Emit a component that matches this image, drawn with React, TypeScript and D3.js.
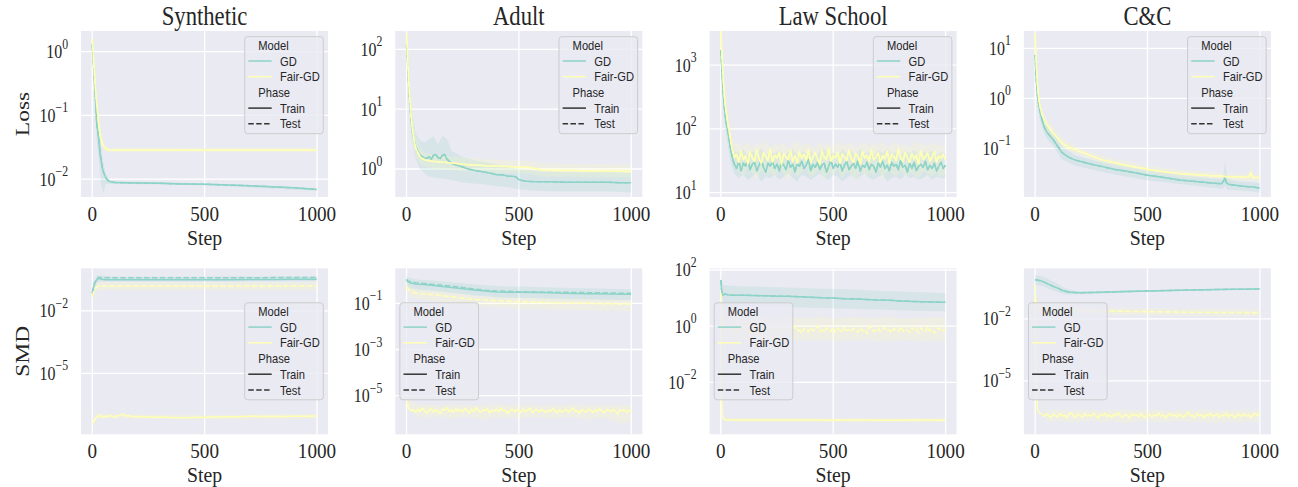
import React from 'react';
import * as d3 from 'd3';

// ---------------- data ----------------
const datasets = ['Synthetic', 'Adult', 'Law School', 'C&C'];
const metrics = ['Loss', 'SMD'];
const xTicks = [0, 500, 1000];
const xDomain = [-49.95, 1048.95];
// y limits (log10) per panel, row-major (Loss row then SMD row)
const yDomainsLog = [
  [-2.28, 0.325], [-0.468, 2.306], [0.933, 3.533], [-1.974, 1.346],
  [-7.93, 0.05], [-6.67, 0.515], [-3.85, 2.06], [-7.58, 0.45],
];
const yTickExps = [
  [0, -1, -2], [2, 1, 0], [3, 2, 1], [1, 0, -1],
  [-2, -5], [-1, -3, -5], [2, 0, -2], [-2, -5],
];

const steps10 = d3.range(0, 1000, 10).concat([999]);
const steps50 = d3.range(0, 1000, 50).concat([999]);

// ---- Synthetic / Loss ----
const synLossSteps = [0, 5, 10, 15, 20, 25, 30, 35, 40, 45, 50, 60, 70, 80, 100, 150, 200, 300, 400, 500, 600, 700, 800, 900, 999];
const synLossGD = [1.3, 0.7, 0.35, 0.17, 0.075, 0.055, 0.04, 0.025, 0.019, 0.015, 0.013, 0.0105, 0.0095, 0.0091, 0.0089, 0.0088, 0.0087, 0.0086, 0.0084, 0.0083, 0.0081, 0.0079, 0.0076, 0.0073, 0.0069];
const synLossFair = [1.6, 0.9, 0.45, 0.25, 0.15, 0.1, 0.07, 0.05, 0.042, 0.036, 0.033, 0.03, 0.029, 0.0285, 0.0285, 0.0285, 0.0285, 0.0285, 0.0285, 0.0285, 0.0285, 0.0285, 0.0285, 0.0285, 0.0285];
const synLossBandSteps = [0, 10, 20, 30, 40, 50, 60, 80, 100, 500, 999];
const synLossGDHi = [1.6, 0.5, 0.12, 0.07, 0.03, 0.018, 0.012, 0.0095, 0.0093, 0.0086, 0.0072];
const synLossGDLo = [1.0, 0.25, 0.04, 0.02, 0.008, 0.006, 0.0085, 0.0084, 0.0085, 0.008, 0.0066];
const synLossFairHi = [1.8, 0.55, 0.2, 0.1, 0.055, 0.04, 0.033, 0.031, 0.031, 0.031, 0.031];
const synLossFairLo = [1.4, 0.4, 0.12, 0.06, 0.035, 0.028, 0.027, 0.027, 0.027, 0.027, 0.027];

// ---- Adult / Loss ----
const adultLossSteps = [0, 5, 10, 15, 20, 25, 30, 40, 50, 60, 75, 90, 100, 110, 120, 130, 140, 150, 160, 170, 180, 190, 200, 225, 250, 275, 300, 325, 350, 375, 400, 425, 450, 475, 490, 500, 525, 550, 600, 650, 700, 750, 800, 850, 900, 950, 999];
const adultLossGD = [120, 60, 25, 12, 7, 4.5, 3.4, 2.4, 2.0, 1.7, 1.55, 1.5, 1.6, 1.45, 1.7, 1.75, 1.55, 1.5, 1.7, 1.75, 1.45, 1.35, 1.25, 1.15, 1.08, 1.0, 0.95, 0.92, 0.88, 0.85, 0.8, 0.8, 0.76, 0.76, 0.72, 0.66, 0.63, 0.62, 0.61, 0.61, 0.6, 0.6, 0.6, 0.6, 0.6, 0.59, 0.59];
const adultLossFair = [180, 70, 30, 14, 8, 5, 3.5, 2.3, 1.9, 1.6, 1.45, 1.4, 1.37, 1.35, 1.34, 1.33, 1.32, 1.3, 1.3, 1.29, 1.28, 1.27, 1.26, 1.23, 1.2, 1.18, 1.16, 1.15, 1.13, 1.12, 1.12, 1.11, 1.1, 1.09, 1.09, 1.08, 1.07, 1.06, 0.96, 0.95, 0.94, 0.94, 0.93, 0.93, 0.92, 0.92, 0.91];
const adultLossBandSteps = [0, 20, 40, 60, 80, 100, 120, 140, 160, 180, 200, 250, 300, 350, 400, 450, 500, 550, 600, 700, 800, 900, 999];
const adultLossGDHi = [180, 12, 4, 3, 2.8, 3.2, 3.5, 2.6, 3.6, 3.2, 2.0, 1.6, 1.4, 1.3, 1.2, 1.1, 1.0, 0.95, 0.9, 0.88, 0.88, 0.88, 0.85];
const adultLossGDLo = [60, 4, 1.5, 1.0, 0.85, 0.75, 0.72, 0.7, 0.7, 0.68, 0.65, 0.6, 0.57, 0.55, 0.52, 0.5, 0.46, 0.44, 0.43, 0.42, 0.42, 0.42, 0.41];
const adultLossFairHi = [250, 14, 3.5, 2.2, 1.9, 1.8, 1.75, 1.7, 1.7, 1.65, 1.6, 1.55, 1.5, 1.45, 1.42, 1.4, 1.38, 1.35, 1.25, 1.22, 1.2, 1.2, 1.18];
const adultLossFairLo = [120, 5, 1.6, 1.2, 1.1, 1.05, 1.0, 1.0, 0.98, 0.97, 0.96, 0.92, 0.9, 0.88, 0.87, 0.86, 0.85, 0.83, 0.75, 0.74, 0.73, 0.73, 0.72];

// ---- Law School / Loss ----
const lawLossSteps = [0, 5, 10, 15, 20, 25, 30, 35, 40, 45, 50, 55, 60].concat(d3.range(70, 1000, 10), [999]);
const lawLossGD = [1700, 800, 400, 230, 160, 120, 95, 75, 58, 45, 38, 32, 28,
  24, 31, 22, 29, 26, 33, 23, 28, 30, 22, 27, 32, 25, 21, 29, 26, 31, 24, 28, 22,
  30, 27, 23, 32, 25, 28, 21, 29, 26, 31, 24, 27, 33, 22, 28, 25, 30, 23, 27, 29,
  21, 26, 32, 24, 28, 25, 30, 22, 27, 31, 23, 26, 29, 24, 32, 22, 27, 25, 30, 23,
  28, 26, 21, 29, 25, 31, 24, 27, 22, 30, 26, 28, 23, 32, 25, 27, 21, 29, 24, 30,
  22, 26, 28, 25, 31, 23, 27, 24, 29, 22, 26, 30, 24, 27];
const lawLossFair = [3500, 1400, 650, 350, 230, 170, 130, 100, 80, 62, 50, 42, 36,
  40, 30, 45, 33, 38, 28, 44, 35, 31, 47, 34, 29, 42, 37, 32, 48, 30, 39, 35, 43,
  28, 41, 36, 33, 46, 31, 38, 29, 44, 35, 40, 32, 47, 30, 37, 42, 34, 28, 45, 36,
  33, 49, 31, 38, 35, 43, 29, 40, 36, 32, 46, 34, 30, 41, 37, 28, 44, 35, 39, 31,
  47, 33, 36, 42, 30, 38, 34, 45, 29, 40, 37, 32, 48, 35, 31, 43, 36, 30, 41, 34,
  39, 28, 46, 33, 37, 42, 31, 36, 44, 30, 38, 35, 40, 33];
const lawLossBandSteps = [0, 10, 20, 30, 40, 50, 60].concat(d3.range(80, 1000, 20), [999]);
const lawLossGDHi = [2500, 700, 250, 150, 90, 60, 45,
  42, 48, 38, 45, 40, 50, 37, 44, 41, 47, 39, 43, 49, 38, 45, 41, 46, 37, 44, 48,
  40, 43, 38, 47, 42, 45, 39, 49, 41, 44, 37, 46, 42, 48, 40, 43, 39, 45, 41, 47, 38, 44, 42, 46, 39, 43, 41];
const lawLossGDLo = [1000, 200, 100, 60, 35, 25, 20,
  17, 19, 16, 18, 20, 15, 18, 17, 19, 16, 18, 20, 17, 15, 19, 18, 16, 18, 20, 17,
  16, 19, 18, 15, 17, 19, 16, 18, 20, 17, 16, 18, 19, 15, 17, 18, 16, 19, 17, 18, 16, 17, 19, 16, 18, 17, 17];
const lawLossFairHi = [3600, 1000, 350, 200, 120, 80, 60,
  58, 52, 63, 50, 60, 55, 65, 51, 59, 54, 62, 49, 57, 64, 53, 60, 56, 50, 63, 55,
  59, 52, 66, 54, 58, 61, 50, 57, 63, 53, 60, 55, 65, 51, 58, 62, 54, 59, 50, 64, 56, 60, 53, 62, 57, 55, 58];
const lawLossFairLo = [2000, 400, 150, 80, 50, 35, 27,
  22, 18, 25, 20, 16, 23, 19, 21, 17, 24, 20, 15, 22, 18, 21, 25, 17, 20, 23, 16,
  21, 19, 24, 17, 22, 20, 15, 23, 18, 21, 19, 24, 16, 22, 20, 18, 23, 17, 21, 19, 16, 22, 20, 18, 21, 17, 20];

// ---- C&C / Loss ----
const ccLossSteps = [0, 5, 10, 15, 20, 30, 40, 50, 60, 80, 100, 120, 150, 180, 220, 260, 300, 350, 400, 450, 500, 550, 600, 650, 700, 750, 800, 830, 840, 845, 850, 860, 900, 950, 960, 965, 970, 999];
const ccLossGD = [7.4, 2.5, 1.2, 0.8, 0.6, 0.38, 0.27, 0.22, 0.19, 0.15, 0.11, 0.082, 0.066, 0.058, 0.052, 0.047, 0.043, 0.038, 0.035, 0.032, 0.029, 0.027, 0.025, 0.023, 0.022, 0.021, 0.02, 0.0195, 0.023, 0.026, 0.021, 0.019, 0.018, 0.017, 0.017, 0.017, 0.0168, 0.016];
const ccLossFair = [20, 5, 2.0, 1.1, 0.75, 0.48, 0.38, 0.31, 0.27, 0.2, 0.16, 0.127, 0.105, 0.093, 0.08, 0.068, 0.058, 0.052, 0.046, 0.042, 0.038, 0.035, 0.033, 0.031, 0.03, 0.029, 0.028, 0.0275, 0.0275, 0.0272, 0.027, 0.027, 0.0268, 0.0265, 0.033, 0.027, 0.0262, 0.026];
const ccLossBandSteps = [0, 10, 20, 30, 50, 80, 120, 180, 260, 350, 500, 650, 800, 835, 845, 855, 900, 955, 962, 970, 999];
const ccLossGDHi = [12, 2.0, 0.9, 0.5, 0.3, 0.2, 0.11, 0.072, 0.058, 0.048, 0.036, 0.029, 0.025, 0.024, 0.055, 0.025, 0.022, 0.021, 0.021, 0.021, 0.02];
const ccLossGDLo = [4, 0.7, 0.4, 0.27, 0.16, 0.11, 0.06, 0.045, 0.037, 0.03, 0.023, 0.019, 0.016, 0.0155, 0.018, 0.015, 0.0145, 0.0138, 0.0137, 0.0135, 0.013];
const ccLossFairHi = [25, 3, 1.1, 0.65, 0.4, 0.26, 0.16, 0.11, 0.08, 0.062, 0.045, 0.037, 0.033, 0.032, 0.032, 0.032, 0.031, 0.031, 0.055, 0.031, 0.03];
const ccLossFairLo = [14, 1.3, 0.55, 0.36, 0.24, 0.16, 0.1, 0.078, 0.058, 0.044, 0.032, 0.026, 0.024, 0.0235, 0.0235, 0.0233, 0.0228, 0.0225, 0.0225, 0.0223, 0.022];

// ---- Synthetic / SMD ----
const synSmdSteps = [0, 5, 10, 20, 30, 40, 60, 80, 100, 150, 200, 300, 400, 500, 600, 700, 800, 900, 999];
const synSmdGDTrain = [0.071, 0.126, 0.2, 0.32, 0.38, 0.33, 0.32, 0.32, 0.32, 0.32, 0.32, 0.32, 0.32, 0.32, 0.32, 0.325, 0.325, 0.33, 0.33];
const synSmdGDTest = [0.07, 0.13, 0.22, 0.35, 0.42, 0.4, 0.39, 0.39, 0.39, 0.39, 0.39, 0.39, 0.39, 0.39, 0.395, 0.395, 0.4, 0.4, 0.4];
const synSmdFairTest = [0.05, 0.08, 0.11, 0.14, 0.16, 0.16, 0.16, 0.16, 0.16, 0.16, 0.16, 0.16, 0.16, 0.16, 0.16, 0.16, 0.16, 0.16, 0.16];
const synSmdFairTrainSteps = [0, 5, 10, 15, 20, 30, 40, 50, 60, 70, 80, 90, 100, 110, 120, 130, 140, 150, 160, 180, 200, 220, 250, 280, 300, 350, 400, 450, 500, 550, 600, 650, 700, 750, 800, 850, 900, 950, 999];
const synSmdFairTrain = [3.8e-8, 4.5e-8, 5.6e-8, 7.1e-8, 7.9e-8, 9.5e-8, 8.7e-8, 7.9e-8, 8.9e-8, 8.3e-8, 9.5e-8, 8.5e-8, 7.9e-8, 8.9e-8, 9.3e-8, 1.05e-7, 1.1e-7, 8.9e-8, 9.5e-8, 8.3e-8, 8.7e-8, 7.9e-8, 8.3e-8, 7.6e-8, 7.9e-8, 7.6e-8, 7.4e-8, 7.6e-8, 7.8e-8, 7.9e-8, 8.1e-8, 8.3e-8, 8.7e-8, 8.5e-8, 8.7e-8, 8.5e-8, 8.7e-8, 8.7e-8, 8.9e-8];
const synSmdBandSteps = [0, 20, 40, 100, 500, 999];
const synSmdGDHi = [0.12, 0.5, 0.5, 0.45, 0.45, 0.47];
const synSmdGDLo = [0.04, 0.22, 0.27, 0.26, 0.26, 0.27];
const synSmdFairTestHi = [0.08, 0.25, 0.25, 0.24, 0.24, 0.24];
const synSmdFairTestLo = [0.03, 0.09, 0.1, 0.1, 0.1, 0.1];
const synSmdFairTrainHi = [6e-8, 1.3e-7, 1.2e-7, 1.1e-7, 1.0e-7, 1.1e-7];
const synSmdFairTrainLo = [3e-8, 6e-8, 6.5e-8, 6.5e-8, 6e-8, 6.5e-8];

// ---- Adult / SMD ----
const adultSmdSteps = [0, 5, 10, 20, 40, 60, 100, 150, 200, 250, 300, 350, 400, 450, 500, 600, 700, 800, 900, 999];
const adultSmdGDTrain = [1.0, 0.87, 0.81, 0.76, 0.69, 0.66, 0.62, 0.55, 0.48, 0.43, 0.38, 0.34, 0.31, 0.3, 0.3, 0.29, 0.27, 0.26, 0.25, 0.245];
const adultSmdGDTest = [1.1, 0.95, 0.9, 0.85, 0.78, 0.74, 0.68, 0.62, 0.55, 0.48, 0.42, 0.37, 0.34, 0.33, 0.32, 0.31, 0.3, 0.29, 0.28, 0.27];
const adultSmdGDHi = [1.8, 1.4, 1.3, 1.2, 1.1, 1.05, 1.0, 0.92, 0.82, 0.74, 0.66, 0.6, 0.56, 0.54, 0.53, 0.5, 0.47, 0.45, 0.43, 0.41];
const adultSmdGDLo = [0.6, 0.5, 0.47, 0.44, 0.4, 0.38, 0.36, 0.32, 0.28, 0.25, 0.22, 0.2, 0.18, 0.17, 0.17, 0.16, 0.15, 0.145, 0.14, 0.138];
const adultSmdFairTest = [0.52, 0.45, 0.38, 0.32, 0.28, 0.26, 0.245, 0.22, 0.19, 0.166, 0.148, 0.138, 0.129, 0.123, 0.117, 0.11, 0.105, 0.1, 0.095, 0.093];
const adultSmdFairTestHi = [0.8, 0.7, 0.6, 0.5, 0.44, 0.4, 0.37, 0.33, 0.29, 0.25, 0.22, 0.21, 0.19, 0.18, 0.175, 0.165, 0.16, 0.15, 0.145, 0.14];
const adultSmdFairTestLo = [0.3, 0.25, 0.21, 0.18, 0.16, 0.15, 0.14, 0.12, 0.1, 0.09, 0.08, 0.072, 0.067, 0.064, 0.06, 0.056, 0.053, 0.05, 0.048, 0.046];
const adultSmdFairTrain = [
  5.5e-6, 2.8e-6, 2.2e-6, 2.5e-6, 1.9e-6, 2.6e-6, 2.1e-6, 2.9e-6, 2.3e-6, 1.8e-6,
  2.4e-6, 2.7e-6, 2.0e-6, 2.5e-6, 2.2e-6, 1.7e-6, 2.6e-6, 2.3e-6, 3.0e-6, 2.1e-6,
  2.4e-6, 1.9e-6, 2.7e-6, 2.2e-6, 2.5e-6, 2.0e-6, 2.8e-6, 2.3e-6, 1.8e-6, 2.6e-6,
  2.1e-6, 3.1e-6, 2.2e-6, 1.9e-6, 2.5e-6, 2.3e-6, 2.7e-6, 1.8e-6, 2.4e-6, 2.1e-6,
  2.6e-6, 2.0e-6, 2.9e-6, 2.2e-6, 2.4e-6, 1.7e-6, 2.3e-6, 2.6e-6, 2.0e-6, 2.5e-6,
  2.2e-6, 1.9e-6, 2.7e-6, 2.1e-6, 2.4e-6, 2.8e-6, 1.8e-6, 2.3e-6, 2.5e-6, 2.0e-6,
  2.6e-6, 2.2e-6, 1.9e-6, 2.4e-6, 2.1e-6, 2.7e-6, 2.3e-6, 1.8e-6, 2.5e-6, 2.0e-6,
  2.2e-6, 2.6e-6, 1.9e-6, 2.4e-6, 2.9e-6, 2.1e-6, 2.3e-6, 1.7e-6, 2.5e-6, 2.2e-6,
  2.0e-6, 2.6e-6, 2.3e-6, 1.9e-6, 2.4e-6, 2.1e-6, 2.7e-6, 2.2e-6, 1.8e-6, 2.5e-6,
  2.3e-6, 2.0e-6, 2.6e-6, 2.1e-6, 1.6e-6, 2.4e-6, 2.2e-6, 2.5e-6, 1.9e-6, 2.3e-6,
  2.1e-6];
const adultSmdFairTrainHi = [8e-6, 4e-6, 4.2e-6, 3.9e-6, 4.3e-6, 4e-6, 3.8e-6, 4.1e-6, 4.4e-6, 3.9e-6, 4e-6, 4.2e-6, 3.8e-6, 4.1e-6, 4e-6, 4.3e-6, 3.9e-6, 4e-6, 4.2e-6, 3.8e-6, 4e-6];
const adultSmdFairTrainLo = [3.5e-6, 1.2e-6, 1.1e-6, 1.3e-6, 1e-6, 1.2e-6, 1.1e-6, 0.9e-6, 1.2e-6, 1.1e-6, 1.0e-6, 1.2e-6, 1.1e-6, 1.0e-6, 1.2e-6, 1.1e-6, 0.9e-6, 1.1e-6, 1.0e-6, 0.6e-6, 0.8e-6];

// ---- Law School / SMD ----
const lawSmdGDSteps = [0, 3, 6, 10, 15, 20, 30].concat(d3.range(50, 1000, 50), [999]);
const lawSmdGD = [44, 20, 14, 12.6, 13.5, 14.1, 13.2, 12.6, 12.6, 12.3, 12.0, 11.7, 11.5, 11.2, 10.7, 10.2, 10.0, 9.5, 9.3, 8.9, 8.5, 8.3, 7.9, 7.6, 7.4, 7.2, 7.1];
const lawSmdGDBandSteps = [0, 10, 30, 100, 200, 300, 400, 500, 600, 700, 800, 900, 999];
const lawSmdGDHi = [60, 30, 28, 26, 25, 24, 22, 21, 20, 18, 17, 16, 15];
const lawSmdGDLo = [25, 5.5, 5.3, 5.2, 5, 4.8, 4.5, 4.3, 4.1, 3.9, 3.7, 3.5, 3.4];
const lawSmdFairTestSteps = [0, 5, 10, 20].concat(d3.range(30, 1000, 10), [999]);
const lawSmdFairTest = [15, 3, 1.2, 0.8,
  0.75, 0.62, 0.9, 0.68, 0.8, 0.58, 0.95, 0.7, 0.64, 0.85,
  0.6, 0.78, 1.0, 0.66, 0.72, 0.55, 0.88, 0.74, 0.63, 0.92,
  0.69, 0.81, 0.57, 0.76, 0.98, 0.65, 0.7, 0.86, 0.6, 0.79,
  0.94, 0.67, 0.73, 0.56, 0.84, 0.71, 0.62, 0.9, 0.68, 0.77,
  1.02, 0.64, 0.74, 0.59, 0.87, 0.7, 0.66, 0.93, 0.61, 0.8,
  0.72, 0.58, 0.96, 0.69, 0.75, 0.63, 0.85, 0.73, 0.6, 0.89,
  0.67, 0.78, 0.55, 0.82, 0.99, 0.65, 0.71, 0.88, 0.62, 0.76,
  0.91, 0.68, 0.74, 0.57, 0.83, 0.7, 0.64, 0.95, 0.66, 0.79,
  0.73, 0.6, 0.9, 0.69, 0.77, 0.58, 0.86, 0.72, 0.63, 0.97,
  0.67, 0.8, 0.56, 0.75, 0.88, 0.65, 0.7, 0.74];
const lawSmdFairTestBandSteps = [0, 10, 30].concat(d3.range(50, 1000, 50), [999]);
const lawSmdFairTestHi = [30, 3, 2.0, 2.1, 1.9, 2.2, 2.0, 1.8, 2.1, 2.0, 1.9, 2.2, 1.8, 2.0, 2.1, 1.9, 2.0, 2.2, 1.8, 2.0, 1.9, 2.1, 2.0];
const lawSmdFairTestLo = [5, 0.5, 0.32, 0.3, 0.34, 0.29, 0.33, 0.31, 0.28, 0.32, 0.3, 0.33, 0.29, 0.31, 0.3, 0.34, 0.28, 0.31, 0.3, 0.32, 0.29, 0.31, 0.3];
const lawSmdFairTrainSteps = [0, 3, 6, 10, 20, 50, 100, 200, 300, 400, 500, 600, 700, 800, 900, 999];
const lawSmdFairTrain = [2, 0.01, 8e-4, 5e-4, 4.7e-4, 4.6e-4, 4.6e-4, 4.55e-4, 4.6e-4, 4.55e-4, 4.5e-4, 4.55e-4, 4.5e-4, 4.5e-4, 4.55e-4, 4.5e-4];
const lawSmdFairTrainHi = [4, 0.03, 1.1e-3, 6e-4, 5.5e-4, 5.4e-4, 5.4e-4, 5.3e-4, 5.4e-4, 5.3e-4, 5.3e-4, 5.3e-4, 5.3e-4, 5.3e-4, 5.3e-4, 5.3e-4];
const lawSmdFairTrainLo = [1, 3e-3, 6e-4, 4.2e-4, 4e-4, 3.9e-4, 3.9e-4, 3.9e-4, 3.9e-4, 3.9e-4, 3.8e-4, 3.9e-4, 3.8e-4, 3.8e-4, 3.9e-4, 3.8e-4];

// ---- C&C / SMD ----
const ccSmdGDSteps = [0, 25, 50, 75, 100, 125, 150, 175, 200, 250, 300, 400, 500, 600, 700, 800, 900, 999];
const ccSmdGD = [0.78, 0.71, 0.54, 0.4, 0.31, 0.23, 0.2, 0.19, 0.186, 0.19, 0.195, 0.21, 0.224, 0.24, 0.25, 0.263, 0.275, 0.28];
const ccSmdGDHi = [1.35, 1.2, 0.95, 0.68, 0.5, 0.33, 0.26, 0.23, 0.215, 0.215, 0.22, 0.235, 0.245, 0.26, 0.27, 0.28, 0.29, 0.295];
const ccSmdGDLo = [0.44, 0.42, 0.32, 0.25, 0.2, 0.16, 0.15, 0.155, 0.16, 0.168, 0.172, 0.188, 0.2, 0.22, 0.23, 0.245, 0.26, 0.265];
const ccSmdFairTestSteps = [0, 3, 6, 10, 20, 50, 100, 200, 300, 500, 700, 999];
const ccSmdFairTest = [0.44, 0.126, 0.063, 0.04, 0.033, 0.03, 0.0275, 0.025, 0.024, 0.0224, 0.021, 0.02];
const ccSmdFairTestHi = [0.8, 0.2, 0.1, 0.06, 0.05, 0.045, 0.04, 0.037, 0.035, 0.033, 0.031, 0.03];
const ccSmdFairTestLo = [0.2, 0.07, 0.04, 0.025, 0.022, 0.02, 0.019, 0.017, 0.016, 0.015, 0.014, 0.013];
const ccSmdFairTrain = [
  0.1, 4.0e-7, 3.0e-7, 2.4e-7, 1.9e-7, 2.6e-7, 2.1e-7, 1.7e-7, 2.5e-7, 2.2e-7,
  1.8e-7, 2.7e-7, 2.0e-7, 2.3e-7, 1.6e-7, 2.4e-7, 2.9e-7, 2.1e-7, 1.8e-7, 2.5e-7,
  2.2e-7, 1.7e-7, 2.6e-7, 2.0e-7, 2.3e-7, 1.9e-7, 2.8e-7, 2.1e-7, 1.6e-7, 2.4e-7,
  2.2e-7, 2.7e-7, 1.9e-7, 2.3e-7, 1.7e-7, 2.5e-7, 2.1e-7, 2.9e-7, 2.0e-7, 1.8e-7,
  2.4e-7, 2.2e-7, 1.6e-7, 2.6e-7, 2.1e-7, 2.3e-7, 1.9e-7, 2.7e-7, 2.0e-7, 1.7e-7,
  2.5e-7, 2.2e-7, 1.8e-7, 2.4e-7, 2.0e-7, 2.8e-7, 1.9e-7, 2.3e-7, 1.6e-7, 2.2e-7,
  2.6e-7, 2.0e-7, 2.3e-7, 1.8e-7, 2.5e-7, 2.1e-7, 1.7e-7, 2.4e-7, 3.1e-7, 2.0e-7,
  2.2e-7, 1.8e-7, 2.6e-7, 2.1e-7, 2.3e-7, 1.6e-7, 2.4e-7, 2.0e-7, 2.7e-7, 1.9e-7,
  2.2e-7, 2.5e-7, 1.7e-7, 2.3e-7, 2.0e-7, 2.8e-7, 1.8e-7, 2.4e-7, 2.1e-7, 1.6e-7,
  2.5e-7, 2.2e-7, 1.9e-7, 2.6e-7, 2.0e-7, 2.3e-7, 1.7e-7, 2.4e-7, 2.7e-7, 2.1e-7,
  2.5e-7];
const ccSmdFairTrainHi = [0.15, 3.8e-7, 3.9e-7, 3.7e-7, 4e-7, 3.8e-7, 3.6e-7, 3.9e-7, 4.1e-7, 3.7e-7, 3.8e-7, 4e-7, 3.6e-7, 3.9e-7, 3.8e-7, 4.1e-7, 3.7e-7, 3.8e-7, 4e-7, 3.7e-7, 3.9e-7];
const ccSmdFairTrainLo = [0.05, 1.1e-7, 1.2e-7, 1.0e-7, 1.1e-7, 1.2e-7, 1.0e-7, 1.1e-7, 0.9e-7, 1.1e-7, 1.2e-7, 1.0e-7, 1.1e-7, 1.2e-7, 1.0e-7, 1.1e-7, 0.9e-7, 1.1e-7, 1.0e-7, 1.1e-7, 1.0e-7];

// ---------------- structure ----------------
type Band = { steps: number[]; lo: number[]; hi: number[] };
type Series = { model: 'GD' | 'Fair-GD'; phase: 'Train' | 'Test'; steps: number[]; values: number[]; band?: Band };

const panelsSeries: Series[][] = [
  [
    { model: 'GD', phase: 'Train', steps: synLossSteps, values: synLossGD, band: { steps: synLossBandSteps, lo: synLossGDLo, hi: synLossGDHi } },
    { model: 'GD', phase: 'Test', steps: synLossSteps, values: synLossGD },
    { model: 'Fair-GD', phase: 'Train', steps: synLossSteps, values: synLossFair, band: { steps: synLossBandSteps, lo: synLossFairLo, hi: synLossFairHi } },
    { model: 'Fair-GD', phase: 'Test', steps: synLossSteps, values: synLossFair },
  ],
  [
    { model: 'GD', phase: 'Train', steps: adultLossSteps, values: adultLossGD, band: { steps: adultLossBandSteps, lo: adultLossGDLo, hi: adultLossGDHi } },
    { model: 'GD', phase: 'Test', steps: adultLossSteps, values: adultLossGD },
    { model: 'Fair-GD', phase: 'Train', steps: adultLossSteps, values: adultLossFair, band: { steps: adultLossBandSteps, lo: adultLossFairLo, hi: adultLossFairHi } },
    { model: 'Fair-GD', phase: 'Test', steps: adultLossSteps, values: adultLossFair },
  ],
  [
    { model: 'GD', phase: 'Train', steps: lawLossSteps, values: lawLossGD, band: { steps: lawLossBandSteps, lo: lawLossGDLo, hi: lawLossGDHi } },
    { model: 'GD', phase: 'Test', steps: lawLossSteps, values: lawLossGD },
    { model: 'Fair-GD', phase: 'Train', steps: lawLossSteps, values: lawLossFair, band: { steps: lawLossBandSteps, lo: lawLossFairLo, hi: lawLossFairHi } },
    { model: 'Fair-GD', phase: 'Test', steps: lawLossSteps, values: lawLossFair },
  ],
  [
    { model: 'GD', phase: 'Train', steps: ccLossSteps, values: ccLossGD, band: { steps: ccLossBandSteps, lo: ccLossGDLo, hi: ccLossGDHi } },
    { model: 'GD', phase: 'Test', steps: ccLossSteps, values: ccLossGD },
    { model: 'Fair-GD', phase: 'Train', steps: ccLossSteps, values: ccLossFair, band: { steps: ccLossBandSteps, lo: ccLossFairLo, hi: ccLossFairHi } },
    { model: 'Fair-GD', phase: 'Test', steps: ccLossSteps, values: ccLossFair },
  ],
  [
    { model: 'GD', phase: 'Train', steps: synSmdSteps, values: synSmdGDTrain, band: { steps: synSmdBandSteps, lo: synSmdGDLo, hi: synSmdGDHi } },
    { model: 'GD', phase: 'Test', steps: synSmdSteps, values: synSmdGDTest },
    { model: 'Fair-GD', phase: 'Train', steps: synSmdFairTrainSteps, values: synSmdFairTrain, band: { steps: synSmdBandSteps, lo: synSmdFairTrainLo, hi: synSmdFairTrainHi } },
    { model: 'Fair-GD', phase: 'Test', steps: synSmdSteps, values: synSmdFairTest, band: { steps: synSmdBandSteps, lo: synSmdFairTestLo, hi: synSmdFairTestHi } },
  ],
  [
    { model: 'GD', phase: 'Train', steps: adultSmdSteps, values: adultSmdGDTrain, band: { steps: adultSmdSteps, lo: adultSmdGDLo, hi: adultSmdGDHi } },
    { model: 'GD', phase: 'Test', steps: adultSmdSteps, values: adultSmdGDTest },
    { model: 'Fair-GD', phase: 'Train', steps: steps10, values: adultSmdFairTrain, band: { steps: steps50, lo: adultSmdFairTrainLo, hi: adultSmdFairTrainHi } },
    { model: 'Fair-GD', phase: 'Test', steps: adultSmdSteps, values: adultSmdFairTest, band: { steps: adultSmdSteps, lo: adultSmdFairTestLo, hi: adultSmdFairTestHi } },
  ],
  [
    { model: 'GD', phase: 'Train', steps: lawSmdGDSteps, values: lawSmdGD, band: { steps: lawSmdGDBandSteps, lo: lawSmdGDLo, hi: lawSmdGDHi } },
    { model: 'GD', phase: 'Test', steps: lawSmdGDSteps, values: lawSmdGD },
    { model: 'Fair-GD', phase: 'Train', steps: lawSmdFairTrainSteps, values: lawSmdFairTrain, band: { steps: lawSmdFairTrainSteps, lo: lawSmdFairTrainLo, hi: lawSmdFairTrainHi } },
    { model: 'Fair-GD', phase: 'Test', steps: lawSmdFairTestSteps, values: lawSmdFairTest, band: { steps: lawSmdFairTestBandSteps, lo: lawSmdFairTestLo, hi: lawSmdFairTestHi } },
  ],
  [
    { model: 'GD', phase: 'Train', steps: ccSmdGDSteps, values: ccSmdGD, band: { steps: ccSmdGDSteps, lo: ccSmdGDLo, hi: ccSmdGDHi } },
    { model: 'GD', phase: 'Test', steps: ccSmdGDSteps, values: ccSmdGD },
    { model: 'Fair-GD', phase: 'Train', steps: steps10, values: ccSmdFairTrain, band: { steps: steps50, lo: ccSmdFairTrainLo, hi: ccSmdFairTrainHi } },
    { model: 'Fair-GD', phase: 'Test', steps: ccSmdFairTestSteps, values: ccSmdFairTest, band: { steps: ccSmdFairTestSteps, lo: ccSmdFairTestLo, hi: ccSmdFairTestHi } },
  ],
];

// ---------------- style / layout ----------------
const W = 1298, H = 487;
const COLOR: Record<string, string> = { GD: '#8dd3c7', 'Fair-GD': '#ffffb3' };
const BG = '#EAEAF2';
const TXT = '#262626';
const SERIF = "'Liberation Serif', 'Times New Roman', serif";
const SANS = "'Liberation Sans', Arial, sans-serif";
const SX = 0.84;
const PLOT_W = 247, PLOT_H = 166;
const colLeft = (c: number) => 81 + 314.3 * c;
const rowTop = [31, 268.3];
const DASH = '5.5,2.4';

function SText(props: { x: number; y: number; size: number; family: string; anchor?: string; rotate?: number; sx?: number; children: any }) {
  const { x, y, size, family, anchor = 'start', rotate, sx = SX, children } = props;
  return (
    <text transform={`translate(${x},${y}) scale(${sx},1)${rotate ? ` rotate(${rotate})` : ''}`}
      fontSize={size} fontFamily={family} textAnchor={anchor} fill={TXT}>{children}</text>
  );
}

function Legend({ x, y }: { x: number; y: number }) {
  const rowY = (i: number) => y + 8.6 + 15.7 * i;
  const entries = [
    { kind: 'title', label: 'Model' },
    { kind: 'line', label: 'GD', color: COLOR.GD, dash: undefined },
    { kind: 'line', label: 'Fair-GD', color: COLOR['Fair-GD'], dash: undefined },
    { kind: 'title', label: 'Phase' },
    { kind: 'line', label: 'Train', color: '#333333', dash: undefined },
    { kind: 'line', label: 'Test', color: '#333333', dash: DASH },
  ];
  return (
    <g>
      <rect x={x} y={y} width={78.6} height={97} rx={3} fill={BG} fillOpacity={0.8} stroke="#cccccc" strokeWidth={1} />
      {entries.map((e, i) => (
        <g key={i}>
          {e.kind === 'line' && (
            <line x1={x + 3.6} x2={x + 27} y1={rowY(i)} y2={rowY(i)} stroke={e.color} strokeWidth={1.5} strokeDasharray={e.dash} />
          )}
          <SText x={e.kind === 'title' ? x + 13.6 : x + 35.3} y={rowY(i) + 4.6} size={13} family={SANS} sx={0.86}>{e.label}</SText>
        </g>
      ))}
    </g>
  );
}

function Panel({ idx }: { idx: number }) {
  const row = Math.floor(idx / 4), col = idx % 4;
  const left = colLeft(col), top = rowTop[row];
  const right = left + PLOT_W, bottom = top + PLOT_H;
  const x = d3.scaleLinear().domain(xDomain).range([left, right]);
  const [lo, hi] = yDomainsLog[idx];
  const y = d3.scaleLog().domain([Math.pow(10, lo), Math.pow(10, hi)]).range([bottom, top]);
  const series = panelsSeries[idx];
  const clipId = `clip-${idx}`;
  const lineGen = (s: Series) =>
    d3.line<number>().x((_, i) => x(s.steps[i])).y((v) => y(v))(s.values) || '';
  const areaGen = (b: Band) =>
    d3.area<number>().x((_, i) => x(b.steps[i])).y0((_, i) => y(b.lo[i])).y1((_, i) => y(b.hi[i]))(b.steps) || '';

  let legendX: number, legendY: number;
  if (row === 0) { legendX = right - 4.7 - 78.6; legendY = top + 5.7; }
  else if (col === 0) { legendX = right - 4.7 - 78.6; legendY = (top + bottom) / 2 - 48.5; }
  else { legendX = left + 4.6; legendY = (top + bottom) / 2 - 48.5; }

  return (
    <g>
      <defs>
        <clipPath id={clipId}><rect x={left} y={top} width={PLOT_W} height={PLOT_H} /></clipPath>
      </defs>
      <rect x={left} y={top} width={PLOT_W} height={PLOT_H} fill={BG} />
      {yTickExps[idx].map((e) => (
        <line key={`gy${e}`} x1={left} x2={right} y1={y(Math.pow(10, e))} y2={y(Math.pow(10, e))} stroke="#fff" strokeWidth={1.3} />
      ))}
      {xTicks.map((t) => (
        <line key={`gx${t}`} x1={x(t)} x2={x(t)} y1={top} y2={bottom} stroke="#fff" strokeWidth={1.3} />
      ))}
      <g clipPath={`url(#${clipId})`}>
        {series.map((s, i) => s.band ? (
          <path key={`b${i}`} d={areaGen(s.band)} fill={COLOR[s.model]} fillOpacity={0.2} stroke="none" />
        ) : null)}
        {series.map((s, i) => (
          <path key={`l${i}`} d={lineGen(s)} fill="none" stroke={COLOR[s.model]} strokeWidth={1.5}
            strokeDasharray={s.phase === 'Test' ? DASH : undefined} strokeLinejoin="round" />
        ))}
      </g>
      {xTicks.map((t) => (
        <SText key={`tx${t}`} x={x(t)} y={bottom + 24} size={22} family={SERIF} anchor="middle" sx={0.87}>{String(t)}</SText>
      ))}
      {yTickExps[idx].map((e) => (
        <text key={`ty${e}`} transform={`translate(${left - 13},${y(Math.pow(10, e)) + 6.5}) scale(${SX},1)`}
          fontFamily={SERIF} fill={TXT} textAnchor="end">
          <tspan fontSize={19}>10</tspan>
          <tspan fontSize={14} dy={-9.5}>{e < 0 ? `\u2212${-e}` : `${e}`}</tspan>
        </text>
      ))}
      <SText x={(left + right) / 2} y={bottom + 48} size={22} family={SERIF} anchor="middle" sx={0.9}>Step</SText>
      {row === 0 && (
        <SText x={(left + right) / 2} y={top - 6} size={27} family={SERIF} anchor="middle">{datasets[col]}</SText>
      )}
      {col === 0 && (
        <SText x={row === 0 ? 28.5 : 29} y={(top + bottom) / 2} size={23.5} family={SERIF} anchor="middle" rotate={-90}>{metrics[row]}</SText>
      )}
      <Legend x={legendX} y={legendY} />
    </g>
  );
}

export default function App() {
  return (
    <svg width={W} height={H} viewBox={`0 0 ${W} ${H}`} style={{ position: 'absolute', left: 0, top: 0, background: '#fff' }}>
      <rect x={0} y={0} width={W} height={H} fill="#fff" />
      {d3.range(8).map((i) => <Panel key={i} idx={i} />)}
    </svg>
  );
}
